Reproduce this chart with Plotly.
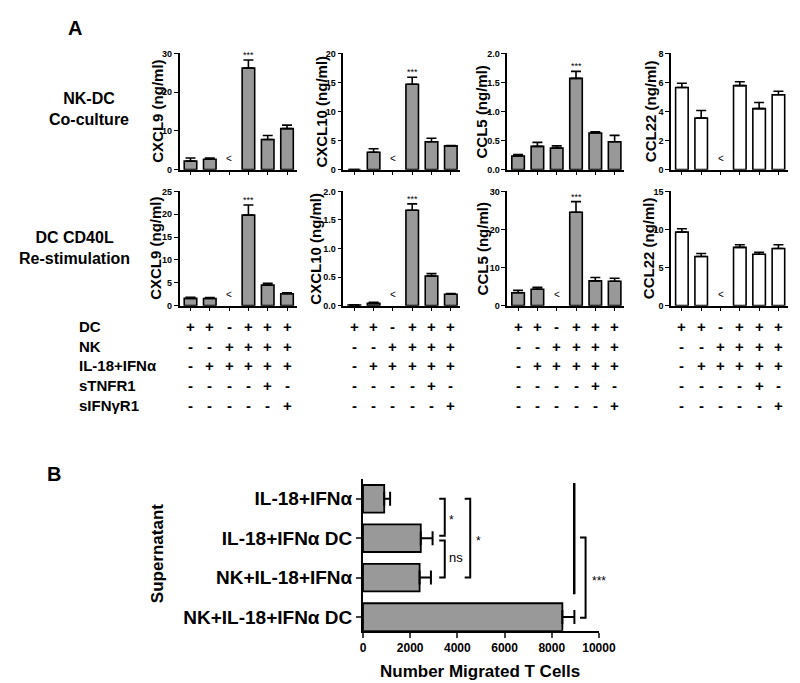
import plotly.graph_objects as go

W, H = 800, 683
FONT = "Liberation Sans, Arial, sans-serif"

# ---------------- DATA ----------------
conditions = [0, 1, 2, 3, 4, 5]

# Row 1 : NK-DC co-culture  (mean, top of error bar)
cxcl9_r1 = [2.2, 2.7, None, 26.2, 7.8, 10.6]
cxcl9_r1_top = [3.0, 3.0, None, 28.3, 8.8, 11.5]
cxcl10_r1 = [0.0, 3.0, None, 14.7, 4.8, 4.1]
cxcl10_r1_top = [0.0, 3.6, None, 15.9, 5.4, 4.15]
ccl5_r1 = [0.235, 0.40, 0.37, 1.57, 0.63, 0.48]
ccl5_r1_top = [0.26, 0.47, 0.41, 1.69, 0.65, 0.59]
ccl22_r1 = [5.65, 3.55, None, 5.78, 4.2, 5.15]
ccl22_r1_top = [5.95, 4.07, None, 6.05, 4.62, 5.4]

# Row 2 : DC CD40L re-stimulation
cxcl9_r2 = [1.6, 1.55, None, 19.8, 4.5, 2.6]
cxcl9_r2_top = [1.85, 1.75, None, 22.0, 4.9, 2.8]
cxcl10_r2 = [0.01, 0.04, None, 1.67, 0.52, 0.2]
cxcl10_r2_top = [0.015, 0.06, None, 1.78, 0.56, 0.21]
ccl5_r2 = [3.4, 4.3, None, 24.5, 6.5, 6.4]
ccl5_r2_top = [4.0, 4.8, None, 27.3, 7.4, 7.2]
ccl22_r2 = [9.65, 6.45, None, 7.65, 6.75, 7.5]
ccl22_r2_top = [10.1, 6.85, None, 8.0, 7.0, 8.0]

table_rows = ["DC", "NK", "IL-18+IFNα", "sTNFR1", "sIFNγR1"]
table_signs = [
    ["+", "+", "-", "+", "+", "+"],
    ["-", "-", "+", "+", "+", "+"],
    ["-", "+", "+", "+", "+", "+"],
    ["-", "-", "-", "-", "+", "-"],
    ["-", "-", "-", "-", "-", "+"],
]

b_categories = ["IL-18+IFNα", "IL-18+IFNα DC", "NK+IL-18+IFNα", "NK+IL-18+IFNα DC"]
b_values = [900, 2450, 2400, 8450]
b_top = [1150, 2950, 2880, 8960]
b_comparisons = [(0, 1, "*"), (1, 2, "ns"), (0, 2, "*"), (1, 3, "***")]

# ---------------- LAYOUT HELPERS ----------------
def px_x(p):
    return p / W

def px_y(p):
    return 1 - p / H

GREY = "#999999"

panels = [
    # name, vals, tops, ymax, tickvals, fmt, fill, stars, below, row, xleft, title_x
    ("CXCL9 (ng/ml)", cxcl9_r1, cxcl9_r1_top, 30, [0, 10, 20, 30], "d", GREY, True, True, 1, 173, 150),
    ("CXCL10 (ng/ml)", cxcl10_r1, cxcl10_r1_top, 20, [0, 5, 10, 15, 20], "d", GREY, True, True, 1, 341, 318),
    ("CCL5 (ng/ml)", ccl5_r1, ccl5_r1_top, 2, [0, 0.5, 1, 1.5, 2], ".1f", GREY, True, False, 1, 509, 483),
    ("CCL22 (ng/ml)", ccl22_r1, ccl22_r1_top, 8, [0, 2, 4, 6, 8], "d", "white", False, True, 1, 677, 656),
    ("CXCL9 (ng/ml)", cxcl9_r2, cxcl9_r2_top, 25, [0, 5, 10, 15, 20, 25], "d", GREY, True, True, 2, 173, 148),
    ("CXCL10 (ng/ml)", cxcl10_r2, cxcl10_r2_top, 2, [0, 0.5, 1, 1.5, 2], ".1f", GREY, True, True, 2, 341, 312),
    ("CCL5 (ng/ml)", ccl5_r2, ccl5_r2_top, 30, [0, 10, 20, 30], "d", GREY, True, True, 2, 509, 484),
    ("CCL22 (ng/ml)", ccl22_r2, ccl22_r2_top, 15, [0, 5, 10, 15], "d", "white", False, True, 2, 677, 654),
]
row_px = {1: (41, 159), 2: (181, 297)}

fig = go.Figure()
layout = dict(
    width=W, height=H, margin=dict(l=0, r=0, t=0, b=0),
    paper_bgcolor="white", plot_bgcolor="white", showlegend=False,
    font=dict(family=FONT, color="black"),
)
annotations = []


def label(text, x, y, size, bold=True, angle=0, xanchor="center"):
    return dict(
        text=text, x=px_x(x), y=px_y(y), xref="paper", yref="paper", showarrow=False,
        xanchor=xanchor, yanchor="middle", textangle=angle,
        font=dict(size=size, family=FONT, weight="bold" if bold else "normal"),
    )


for i, (title, vals, tops, ymax, tv, fmt, fill, stars, below, row, xl, tx) in enumerate(panels):
    k = i + 1
    xs = "" if k == 1 else str(k)
    top_px, bot_px = row_px[row]
    plus = [(t - v) if (t is not None and v is not None) else 0 for v, t in zip(vals, tops)]
    fig.add_trace(go.Bar(
        x=conditions, y=vals, xaxis="x" + xs, yaxis="y" + xs, width=0.65,
        marker=dict(color=fill, line=dict(color="black", width=1.6)),
        error_y=dict(type="data", symmetric=False, array=plus, arrayminus=[0] * 6,
                     color="black", thickness=1.6, width=5),
    ))
    layout["xaxis" + xs] = dict(
        domain=[px_x(xl), px_x(xl + 120)], range=[-0.56, 5.5], anchor="y" + xs,
        showline=True, linecolor="black", linewidth=1.6, ticks="outside",
        tickvals=conditions, ticklen=4, tickwidth=1.4, tickcolor="black",
        showticklabels=False, showgrid=False, zeroline=False, fixedrange=True,
    )
    layout["yaxis" + xs] = dict(
        domain=[px_y(bot_px), px_y(top_px)], range=[0, ymax], anchor="x" + xs,
        showline=True, linecolor="black", linewidth=1.6, ticks="outside",
        tickvals=tv, tickformat=fmt, ticklen=4, tickwidth=1.4, tickcolor="black",
        tickfont=dict(size=9, family=FONT, weight="bold"),
        showgrid=False, zeroline=False, fixedrange=True,
    )
    annotations.append(label(title, tx, (top_px + bot_px) / 2, 15, angle=-90))
    if stars:
        annotations.append(dict(
            text="***", x=3, y=tops[3], xref="x" + xs, yref="y" + xs, showarrow=False,
            xanchor="center", yanchor="bottom", yshift=-2, font=dict(size=9, family=FONT),
        ))
    if below:
        annotations.append(dict(
            text="<", x=2, y=0.1, xref="x" + xs, yref="y" + xs + " domain", showarrow=False,
            xanchor="center", yanchor="middle", font=dict(size=10, family=FONT),
        ))
    # table of conditions under each column of panels
    if row == 2:
        for r, signs in enumerate(table_signs):
            for c, s in enumerate(signs):
                annotations.append(dict(
                    text=s, x=conditions[c], y=px_y(318 + 20 * r), xref="x" + xs, yref="paper",
                    showarrow=False, xanchor="center", yanchor="middle",
                    font=dict(size=15, family=FONT, weight="bold"),
                ))

for r, lab in enumerate(table_rows):
    annotations.append(label(lab, 68, 318 + 20 * r, 15, xanchor="left"))

annotations += [
    label("A", 66, 15, 20),
    label("B", 44, 468, 20),
    label("NK-DC<br>Co-culture", 80, 97, 16),
    label("DC CD40L<br>Re-stimulation", 65, 238, 16),
]

# ---------------- PANEL B ----------------
b_pos = list(range(len(b_categories)))
fig.add_trace(go.Bar(
    x=b_values, y=b_pos, orientation="h", xaxis="x9", yaxis="y9", width=0.7,
    marker=dict(color=GREY, line=dict(color="black", width=1.8)),
    error_x=dict(type="data", symmetric=False, array=[t - v for v, t in zip(b_values, b_top)],
                 arrayminus=[0] * 4, color="black", thickness=2, width=7),
))
layout["xaxis9"] = dict(
    domain=[px_x(361), px_x(603)], range=[0, 10000], anchor="y9",
    showline=True, linecolor="black", linewidth=1.8, ticks="outside", ticklen=5, tickwidth=1.6,
    tickvals=[0, 2000, 4000, 6000, 8000, 10000], tickformat="d",
    tickfont=dict(size=12, family=FONT, weight="bold"), showgrid=False, zeroline=False, fixedrange=True,
)
layout["yaxis9"] = dict(
    domain=[px_y(627), px_y(473)], range=[3.35, -0.5], anchor="x9",
    showline=True, linecolor="black", linewidth=1.8, ticks="outside", ticklen=5, tickwidth=1.6,
    tickvals=b_pos, ticktext=b_categories,
    tickfont=dict(size=19, family=FONT, weight="bold"), showgrid=False, zeroline=False, fixedrange=True,
)

# significance brackets: bracket x, y extent, label position
bracket_style = [
    dict(x=3466, y0=0.0, y1=0.94, lx=3770, ly=0.47),
    dict(x=3466, y0=1.06, y1=2.0, lx=3955, ly=1.5),
    dict(x=4545, y0=0.0, y1=2.0, lx=4890, ly=1.0),
    dict(x=9434, y0=0.98, y1=3.02, lx=9986, ly=2.0),
]
tick = 234
bx, by = [], []
for (a, b, lab), st in zip(b_comparisons, bracket_style):
    ya, yb = st["y0"], st["y1"]
    bx += [st["x"] - tick, st["x"], st["x"], st["x"] - tick, None]
    by += [ya, ya, yb, yb, None]
    annotations.append(dict(
        text=lab, x=st["lx"], y=st["ly"], xref="x9", yref="y9", showarrow=False,
        xanchor="center", yanchor="middle", yshift=-3 if "*" in lab else 0,
        font=dict(size=12 if "*" in lab else 13, family=FONT),
    ))
fig.add_trace(go.Scatter(x=bx, y=by, xaxis="x9", yaxis="y9", mode="lines",
                         line=dict(color="black", width=2), hoverinfo="skip"))
fig.add_trace(go.Scatter(x=[8953, 8953], y=[-0.4, 2.42], xaxis="x9", yaxis="y9", mode="lines",
                         line=dict(color="black", width=2.5), hoverinfo="skip"))

annotations += [
    label("Supernatant", 151, 548, 17, angle=-90),
    label("Number Migrated T Cells", 481, 668, 17),
]

layout["annotations"] = annotations
fig.update_layout(**layout)
fig.write_html("out.html")
